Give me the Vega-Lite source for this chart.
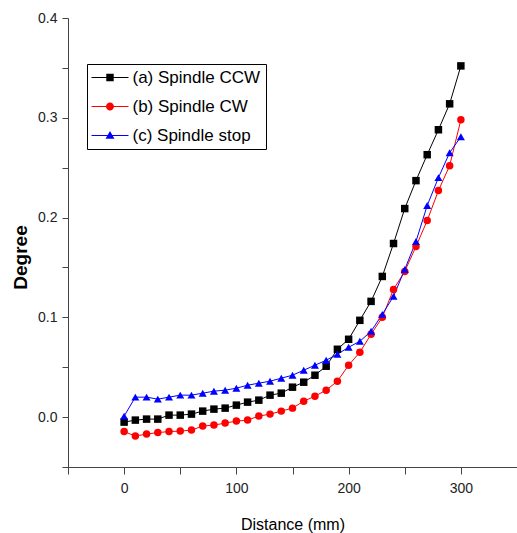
{
  "$schema": "https://vega.github.io/schema/vega-lite/v6.json",
  "width": 449,
  "height": 449,
  "autosize": "none",
  "padding": {"left": 68, "top": 18, "right": 0, "bottom": 66},
  "background": "white",
  "config": {
    "view": {"stroke": null},
    "axis": {
      "grid": false,
      "domainColor": "#444",
      "tickColor": "#444",
      "labelColor": "#222",
      "titleColor": "#000",
      "labelFont": "Liberation Sans, Arial",
      "titleFont": "Liberation Sans, Arial",
      "labelFontSize": 14,
      "tickSize": 6
    }
  },
  "data": {
    "values": [
      {"series": "(a) Spindle CCW", "distance": 0, "degree": -0.005},
      {"series": "(a) Spindle CCW", "distance": 10, "degree": -0.003},
      {"series": "(a) Spindle CCW", "distance": 20, "degree": -0.002},
      {"series": "(a) Spindle CCW", "distance": 30, "degree": -0.002},
      {"series": "(a) Spindle CCW", "distance": 40, "degree": 0.002},
      {"series": "(a) Spindle CCW", "distance": 50, "degree": 0.002},
      {"series": "(a) Spindle CCW", "distance": 60, "degree": 0.003},
      {"series": "(a) Spindle CCW", "distance": 70, "degree": 0.006},
      {"series": "(a) Spindle CCW", "distance": 80, "degree": 0.008},
      {"series": "(a) Spindle CCW", "distance": 90, "degree": 0.009},
      {"series": "(a) Spindle CCW", "distance": 100, "degree": 0.012},
      {"series": "(a) Spindle CCW", "distance": 110, "degree": 0.015},
      {"series": "(a) Spindle CCW", "distance": 120, "degree": 0.017},
      {"series": "(a) Spindle CCW", "distance": 130, "degree": 0.022},
      {"series": "(a) Spindle CCW", "distance": 140, "degree": 0.024},
      {"series": "(a) Spindle CCW", "distance": 150, "degree": 0.030},
      {"series": "(a) Spindle CCW", "distance": 160, "degree": 0.035},
      {"series": "(a) Spindle CCW", "distance": 170, "degree": 0.042},
      {"series": "(a) Spindle CCW", "distance": 180, "degree": 0.051},
      {"series": "(a) Spindle CCW", "distance": 190, "degree": 0.068},
      {"series": "(a) Spindle CCW", "distance": 200, "degree": 0.078},
      {"series": "(a) Spindle CCW", "distance": 210, "degree": 0.097},
      {"series": "(a) Spindle CCW", "distance": 220, "degree": 0.116},
      {"series": "(a) Spindle CCW", "distance": 230, "degree": 0.141},
      {"series": "(a) Spindle CCW", "distance": 240, "degree": 0.174},
      {"series": "(a) Spindle CCW", "distance": 250, "degree": 0.209},
      {"series": "(a) Spindle CCW", "distance": 260, "degree": 0.237},
      {"series": "(a) Spindle CCW", "distance": 270, "degree": 0.263},
      {"series": "(a) Spindle CCW", "distance": 280, "degree": 0.288},
      {"series": "(a) Spindle CCW", "distance": 290, "degree": 0.314},
      {"series": "(a) Spindle CCW", "distance": 300, "degree": 0.352},
      {"series": "(b) Spindle CW", "distance": 0, "degree": -0.0145},
      {"series": "(b) Spindle CW", "distance": 10, "degree": -0.019},
      {"series": "(b) Spindle CW", "distance": 20, "degree": -0.017},
      {"series": "(b) Spindle CW", "distance": 30, "degree": -0.0155},
      {"series": "(b) Spindle CW", "distance": 40, "degree": -0.0145},
      {"series": "(b) Spindle CW", "distance": 50, "degree": -0.014},
      {"series": "(b) Spindle CW", "distance": 60, "degree": -0.013},
      {"series": "(b) Spindle CW", "distance": 70, "degree": -0.009},
      {"series": "(b) Spindle CW", "distance": 80, "degree": -0.008},
      {"series": "(b) Spindle CW", "distance": 90, "degree": -0.006},
      {"series": "(b) Spindle CW", "distance": 100, "degree": -0.004},
      {"series": "(b) Spindle CW", "distance": 110, "degree": -0.003},
      {"series": "(b) Spindle CW", "distance": 120, "degree": 0.001},
      {"series": "(b) Spindle CW", "distance": 130, "degree": 0.003},
      {"series": "(b) Spindle CW", "distance": 140, "degree": 0.006},
      {"series": "(b) Spindle CW", "distance": 150, "degree": 0.009},
      {"series": "(b) Spindle CW", "distance": 160, "degree": 0.016},
      {"series": "(b) Spindle CW", "distance": 170, "degree": 0.021},
      {"series": "(b) Spindle CW", "distance": 180, "degree": 0.027},
      {"series": "(b) Spindle CW", "distance": 190, "degree": 0.036},
      {"series": "(b) Spindle CW", "distance": 200, "degree": 0.052},
      {"series": "(b) Spindle CW", "distance": 210, "degree": 0.065},
      {"series": "(b) Spindle CW", "distance": 220, "degree": 0.083},
      {"series": "(b) Spindle CW", "distance": 230, "degree": 0.100},
      {"series": "(b) Spindle CW", "distance": 240, "degree": 0.128},
      {"series": "(b) Spindle CW", "distance": 250, "degree": 0.146},
      {"series": "(b) Spindle CW", "distance": 260, "degree": 0.171},
      {"series": "(b) Spindle CW", "distance": 270, "degree": 0.197},
      {"series": "(b) Spindle CW", "distance": 280, "degree": 0.227},
      {"series": "(b) Spindle CW", "distance": 290, "degree": 0.252},
      {"series": "(b) Spindle CW", "distance": 300, "degree": 0.298},
      {"series": "(c) Spindle stop", "distance": 0, "degree": 0.001},
      {"series": "(c) Spindle stop", "distance": 10, "degree": 0.020},
      {"series": "(c) Spindle stop", "distance": 20, "degree": 0.020},
      {"series": "(c) Spindle stop", "distance": 30, "degree": 0.018},
      {"series": "(c) Spindle stop", "distance": 40, "degree": 0.020},
      {"series": "(c) Spindle stop", "distance": 50, "degree": 0.022},
      {"series": "(c) Spindle stop", "distance": 60, "degree": 0.022},
      {"series": "(c) Spindle stop", "distance": 70, "degree": 0.024},
      {"series": "(c) Spindle stop", "distance": 80, "degree": 0.026},
      {"series": "(c) Spindle stop", "distance": 90, "degree": 0.027},
      {"series": "(c) Spindle stop", "distance": 100, "degree": 0.029},
      {"series": "(c) Spindle stop", "distance": 110, "degree": 0.032},
      {"series": "(c) Spindle stop", "distance": 120, "degree": 0.034},
      {"series": "(c) Spindle stop", "distance": 130, "degree": 0.036},
      {"series": "(c) Spindle stop", "distance": 140, "degree": 0.039},
      {"series": "(c) Spindle stop", "distance": 150, "degree": 0.042},
      {"series": "(c) Spindle stop", "distance": 160, "degree": 0.047},
      {"series": "(c) Spindle stop", "distance": 170, "degree": 0.052},
      {"series": "(c) Spindle stop", "distance": 180, "degree": 0.057},
      {"series": "(c) Spindle stop", "distance": 190, "degree": 0.063},
      {"series": "(c) Spindle stop", "distance": 200, "degree": 0.070},
      {"series": "(c) Spindle stop", "distance": 210, "degree": 0.076},
      {"series": "(c) Spindle stop", "distance": 220, "degree": 0.086},
      {"series": "(c) Spindle stop", "distance": 230, "degree": 0.103},
      {"series": "(c) Spindle stop", "distance": 240, "degree": 0.121},
      {"series": "(c) Spindle stop", "distance": 250, "degree": 0.148},
      {"series": "(c) Spindle stop", "distance": 260, "degree": 0.176},
      {"series": "(c) Spindle stop", "distance": 270, "degree": 0.212},
      {"series": "(c) Spindle stop", "distance": 280, "degree": 0.240},
      {"series": "(c) Spindle stop", "distance": 290, "degree": 0.265},
      {"series": "(c) Spindle stop", "distance": 300, "degree": 0.281}
    ]
  },
  "encoding": {
    "x": {
      "field": "distance",
      "type": "quantitative",
      "scale": {"domain": [-50, 350], "nice": false, "zero": false},
      "axis": {
        "title": "Distance (mm)",
        "values": [-50, 0, 50, 100, 150, 200, 250, 300],
        "labelExpr": "(datum.value % 100 === 0 && datum.value >= 0) ? datum.label : ''",
        "tickSize": 7,
        "labelPadding": 7,
        "titleFontSize": 16,
        "titleFontWeight": "normal",
        "titleBaseline": "alphabetic",
        "titleY": 62
      }
    },
    "y": {
      "field": "degree",
      "type": "quantitative",
      "scale": {"domain": [-0.05, 0.4], "nice": false, "zero": false},
      "axis": {
        "title": "Degree",
        "values": [-0.05, 0, 0.05, 0.1, 0.15, 0.2, 0.25, 0.3, 0.35, 0.4],
        "labelExpr": "abs(datum.value * 10 - round(datum.value * 10)) < 0.001 ? format(datum.value, '.1f') : ''",
        "labelPadding": 5,
        "titleFontSize": 19,
        "titleFontWeight": "bold",
        "titleAngle": -90,
        "titleX": -48,
        "titleY": 239,
        "titleAlign": "center",
        "titleBaseline": "middle"
      }
    },
    "color": {
      "field": "series",
      "type": "nominal",
      "scale": {
        "domain": ["(a) Spindle CCW", "(b) Spindle CW", "(c) Spindle stop"],
        "range": ["black", "red", "blue"]
      },
      "legend": {
        "title": null,
        "orient": "none",
        "legendX": 19,
        "legendY": 46,
        "strokeColor": "black",
        "fillColor": "white",
        "padding": 5,
        "rowPadding": 11,
        "symbolSize": 196,
        "symbolOffset": 9.5,
        "labelOffset": 14,
        "labelFont": "Liberation Sans, Arial",
        "labelFontSize": 17,
        "labelColor": "#000",
        "symbolOpacity": 1,
        "symbolStrokeWidth": 0
      }
    }
  },
  "layer": [
    {
      "mark": {"type": "line", "strokeWidth": 1},
      "encoding": {"detail": {"field": "series"}}
    },
    {
      "transform": [{"filter": "datum.series === '(a) Spindle CCW'"}],
      "mark": {"type": "point", "filled": true, "shape": "square", "size": 56, "opacity": 1}
    },
    {
      "transform": [{"filter": "datum.series === '(b) Spindle CW'"}],
      "mark": {"type": "point", "filled": true, "shape": "circle", "size": 56, "opacity": 1}
    },
    {
      "transform": [{"filter": "datum.series === '(c) Spindle stop'"}],
      "mark": {"type": "point", "filled": true, "shape": "triangle-up", "size": 64, "opacity": 1}
    },
    {
      "mark": {"type": "point", "filled": true, "opacity": 0},
      "encoding": {
        "shape": {
          "field": "series",
          "type": "nominal",
          "scale": {
            "domain": ["(a) Spindle CCW", "(b) Spindle CW", "(c) Spindle stop"],
            "range": [
              "M-2.64,-0.07H2.64V0.07H-2.64ZM-0.53,-0.53H0.53V0.53H-0.53Z",
              "M-2.64,-0.07H2.64V0.07H-2.64ZM-0.57,0A0.57,0.57 0 1,1 0.57,0A0.57,0.57 0 1,1 -0.57,0Z",
              "M-2.64,-0.07H2.64V0.07H-2.64ZM0,-0.64L0.64,0.46L-0.64,0.46Z"
            ]
          },
          "legend": null
        }
      }
    }
  ]
}
